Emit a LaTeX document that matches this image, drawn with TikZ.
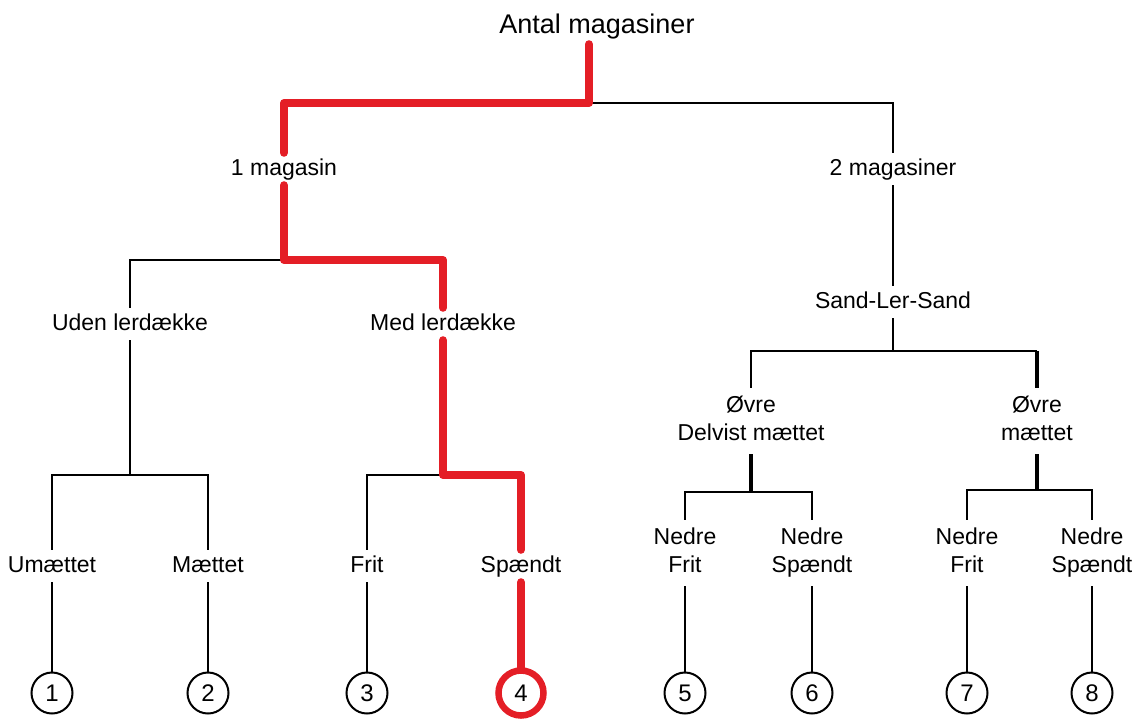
\documentclass[tikz,border=0pt]{standalone}
\usepackage{fontspec}
\setmainfont{Liberation Sans}
\definecolor{pathred}{RGB}{228,30,38}
\begin{document}
\begin{tikzpicture}[x=1pt,y=-1pt,
  lab/.style={font=\fontsize{23}{28}\selectfont, inner sep=5pt, text height=17pt, text depth=5pt},
  lab2/.style={font=\fontsize{23}{28}\selectfont, inner sep=5pt, align=center, anchor=north},
  num/.style={circle, draw, line width=2pt, minimum size=41pt, inner sep=0pt, font=\fontsize{24}{28}\selectfont},
  link/.style={line width=2pt, line cap=butt},
  thicklink/.style={line width=3.5pt},
  redline/.style={line width=8pt, draw=pathred, line cap=round, line join=round}]
\useasboundingbox (0,0) rectangle (1144,724);

% labels
\node[font=\fontsize{27}{32}\selectfont, inner sep=5pt, text height=20pt, text depth=6pt] (root) at (597,26) {Antal magasiner};
\node[lab] (m1) at (284,169) {1 magasin};
\node[lab] (m2) at (893,169) {2 magasiner};
\node[lab] (uden) at (130,324) {Uden lerdække};
\node[lab] (med) at (443,324) {Med lerdække};
\node[lab] (sls) at (893,302) {Sand-Ler-Sand};
\node[lab2] (od) at (751,388) {\strut Øvre\\Delvist mættet\strut};
\node[lab2] (om) at (1037,388) {\strut Øvre\\mættet\strut};
\node[lab] (um) at (52,566) {Umættet};
\node[lab] (mt) at (208,566) {Mættet};
\node[lab] (fr) at (367,566) {Frit};
\node[lab] (sp) at (521,566) {Spændt};
\node[lab2] (nf1) at (685,520) {\strut Nedre\\Frit\strut};
\node[lab2] (ns1) at (812,520) {\strut Nedre\\Spændt\strut};
\node[lab2] (nf2) at (967,520) {\strut Nedre\\Frit\strut};
\node[lab2] (ns2) at (1092,520) {\strut Nedre\\Spændt\strut};

% numbered outcomes
\node[num] (c1) at (52,693) {1};
\node[num] (c2) at (208,693) {2};
\node[num] (c3) at (367,693) {3};
\node[num, draw=pathred, line width=6.5pt, minimum size=45pt] (c4) at (521,693) {4};
\node[num] (c5) at (685,693) {5};
\node[num] (c6) at (812,693) {6};
\node[num] (c7) at (967,693) {7};
\node[num] (c8) at (1092,693) {8};

% branch junctions
\coordinate (j0) at (589,103);
\coordinate (j1) at (284,260);
\coordinate (j2) at (443,475);
\coordinate (j3) at (130,475);
\coordinate (j4) at (893,351);
\coordinate (j5) at (751,492);
\coordinate (j6) at (1037,490);

% black branches
\draw[link] (j0) -| (m2.north);
\draw[link] (m2.south) -- (sls.north);
\draw[link] (j1) -| (uden.north);
\draw[link] (uden.south) -- (j3);
\draw[link] (j3) -| (um.north);
\draw[link] (j3) -| (mt.north);
\draw[link] (j2) -| (fr.north);
\draw[link] (sls.south) -- (j4);
\draw[link] (j4) -| (od.north);
\draw[link] (j4) -- (j4 -| om.north);
\draw[thicklink] (j4 -| om.north) -- (om.north);
\draw[thicklink] (od.south) -- (j5);
\draw[link] (j5) -| (nf1.north);
\draw[link] (j5) -| (ns1.north);
\draw[thicklink] (om.south) -- (j6);
\draw[link] (j6) -| (nf2.north);
\draw[link] (j6) -| (ns2.north);
\foreach \a/\b in {um/c1, mt/c2, fr/c3, nf1/c5, ns1/c6, nf2/c7, ns2/c8}
  \draw[link] (\a.south) -- (\b.north);

% highlighted route
\draw[redline] (root.south -| j0) -- (j0) -| (m1.north);
\draw[redline] (m1.south) -- (j1) -| (med.north);
\draw[redline] (med.south) -- (j2) -| (sp.north);
\draw[redline] (sp.south) -- (c4.north);
\end{tikzpicture}
\end{document}
